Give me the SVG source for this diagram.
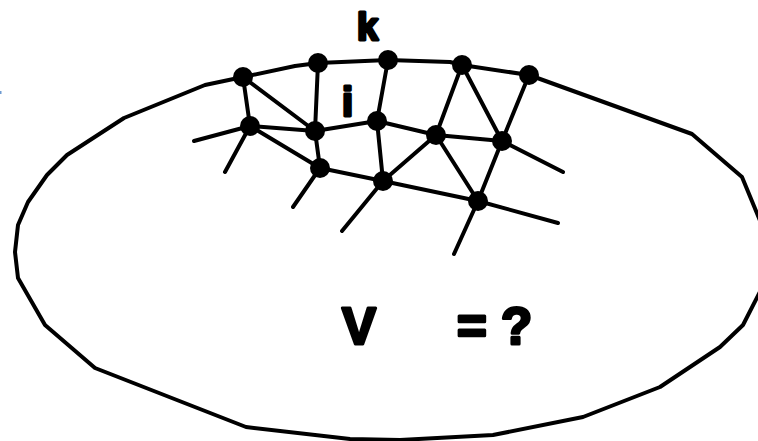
<svg xmlns="http://www.w3.org/2000/svg" width="758" height="441" viewBox="0 0 758 441">
<style>
.e{stroke:#000;stroke-width:4;fill:none;stroke-linecap:round;stroke-linejoin:round}
.n{fill:#000}
.t{font-family:"Liberation Sans",Arial,sans-serif;font-weight:bold;fill:#000;stroke:#000;stroke-width:3;stroke-linejoin:round}
</style>
<rect width="758" height="441" fill="#fff"/>
<rect x="0" y="91" width="1.5" height="3" fill="#6f9bd1"/>
<g id="outline">
<polygon class="e" points="243,77 295,66 318,63 388,60 450,62 462,65 529,75 692,134 742,177 768,240 765,282 743,325 720,347 660,387 583,417 493,435 400,440 350,439 246,427 95,368 45,325 18,278 15,252 18,225 28,202 47,175 67,155 124,118 205,85"/>
</g>
<g id="connectors">
<path class="e" d="M243,77 L250,126 M243,77 L315,131 M318,63 L315,131 M388,60 L377,121 M462,65 L436,135 M462,65 L502,141 M529,75 L502,141"/>
<path class="e" d="M250,126 L315,131 M250,126 L320,168 M250,126 L194,141 M250,126 L225,172"/>
<path class="e" d="M315,131 L377,121 M315,131 L320,168 M377,121 L436,135 M377,121 L383,181"/>
<path class="e" d="M436,135 L502,141 M436,135 L383,181 M436,135 L478,201 M502,141 L478,201 M502,141 L563,172"/>
<path class="e" d="M320,168 L383,181 M320,168 L293,207 M383,181 L478,201 M383,181 L342,231 M478,201 L558,223 M478,201 L454,254"/>
</g>
<g id="n1"><circle class="n" cx="243" cy="77" r="10"/></g>
<g id="n2"><circle class="n" cx="318" cy="63" r="10"/></g>
<g id="n3"><circle class="n" cx="388" cy="60" r="10"/></g>
<g id="n4"><circle class="n" cx="462" cy="65" r="10"/></g>
<g id="n5"><circle class="n" cx="529" cy="75" r="10"/></g>
<g id="n6"><circle class="n" cx="250" cy="126" r="10"/></g>
<g id="n7"><circle class="n" cx="315" cy="131" r="10"/></g>
<g id="n8"><circle class="n" cx="377" cy="121" r="10"/></g>
<g id="n9"><circle class="n" cx="436" cy="135" r="10"/></g>
<g id="n10"><circle class="n" cx="502" cy="141" r="10"/></g>
<g id="n11"><circle class="n" cx="320" cy="168" r="10"/></g>
<g id="n12"><circle class="n" cx="383" cy="181" r="10"/></g>
<g id="n13"><circle class="n" cx="478" cy="201" r="10"/></g>
<g id="labels">
<text class="t" x="357" y="40" font-size="38">k</text>
<text class="t" x="342" y="116" font-size="40">i</text>
<text class="t" x="342" y="344" font-size="51">V</text>
<text class="t" x="457" y="344" font-size="51">= ?</text>
</g>
</svg>
